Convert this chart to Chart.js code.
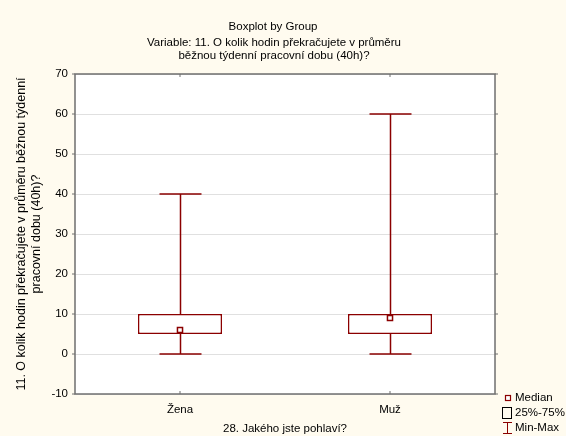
<!DOCTYPE html>
<html lang="cs">
<head>
<meta charset="UTF-8">
<title>Boxplot by Group</title>
<script src="https://cdn.jsdelivr.net/npm/chart.js"></script>
<style>
  body { margin: 0; background: #fffbef; }
  canvas { display: block; }
</style>
</head>
<body>
<canvas id="boxChart" width="566" height="436"></canvas>
<script>
// box plot values
const groups = ['Žena', 'Muž'];
const minVals = [0, 0];
const q1Vals = [5, 5];
const medianVals = [6, 9];
const q3Vals = [10, 10];
const maxVals = [40, 60];
const yMin = -10, yMax = 70, yStep = 10;

const titleLines = ['Boxplot by Group',
  'Variable: 11. O kolik hodin překračujete v průměru',
  'běžnou týdenní pracovní dobu (40h)?'];
const legendLabels = ['Median', '25%-75%', 'Min-Max'];

const FONT = '"Liberation Sans", Arial, sans-serif';
const RED = '#8b0000';

// whiskers, frame, ticks, titles and the legend
const boxExtras = {
  id: 'boxExtras',
  beforeDraw(chart) {
    const {ctx, chartArea: a} = chart;
    ctx.save();
    ctx.fillStyle = '#fffbef';
    ctx.fillRect(0, 0, chart.width, chart.height);
    ctx.fillStyle = '#ffffff';
    ctx.fillRect(a.left, a.top, a.right - a.left, a.bottom - a.top);
    ctx.restore();
  },
  afterDatasetsDraw(chart) {
    const {ctx, chartArea: a, scales: {x, y}} = chart;
    ctx.save();
    ctx.strokeStyle = RED;
    ctx.lineWidth = 1.5;
    groups.forEach((g, i) => {
      const cx = Math.round(x.getPixelForValue(i)) + 0.5;
      const half = 21;
      const pMax = y.getPixelForValue(maxVals[i]);
      const pQ3 = y.getPixelForValue(q3Vals[i]);
      const pQ1 = y.getPixelForValue(q1Vals[i]);
      const pMin = y.getPixelForValue(minVals[i]);
      ctx.beginPath();
      ctx.moveTo(cx, pMax); ctx.lineTo(cx, pQ3);
      ctx.moveTo(cx, pQ1); ctx.lineTo(cx, pMin);
      ctx.moveTo(cx - half, pMax); ctx.lineTo(cx + half, pMax);
      ctx.moveTo(cx - half, pMin); ctx.lineTo(cx + half, pMin);
      ctx.stroke();
    });

    // frame
    ctx.strokeStyle = '#6f6f6f';
    ctx.lineWidth = 1.5;
    ctx.strokeRect(a.left, a.top, a.right - a.left, a.bottom - a.top);
    ctx.beginPath();
    y.ticks.forEach(t => {
      const py = y.getPixelForValue(t.value);
      ctx.moveTo(a.left - 3, py); ctx.lineTo(a.left, py);
      ctx.moveTo(a.right, py); ctx.lineTo(a.right + 3, py);
    });
    groups.forEach((g, i) => {
      const px = x.getPixelForValue(i);
      ctx.moveTo(px, a.top); ctx.lineTo(px, a.top + 3);
      ctx.moveTo(px, a.bottom); ctx.lineTo(px, a.bottom - 3);
    });
    ctx.lineWidth = 1;
    ctx.stroke();

    // titles
    ctx.fillStyle = '#000';
    ctx.font = '11.5px ' + FONT;
    ctx.textAlign = 'center';
    ctx.textBaseline = 'middle';
    ctx.fillText(titleLines[0], 273, 27);
    ctx.fillText(titleLines[1], 274, 43);
    ctx.fillText(titleLines[2], 274, 56);

    // legend
    const lx = 508;
    ctx.strokeStyle = RED;
    ctx.lineWidth = 1.2;
    ctx.fillStyle = '#fff';
    ctx.fillRect(lx - 2.5, 395.5, 5, 5);
    ctx.strokeRect(lx - 2.5, 395.5, 5, 5);
    ctx.lineWidth = 1;
    ctx.strokeStyle = '#000';
    ctx.strokeRect(502.5, 407.5, 9, 11);
    ctx.strokeStyle = RED;
    ctx.beginPath();
    ctx.moveTo(507.5, 422); ctx.lineTo(507.5, 434);
    ctx.moveTo(503, 422.5); ctx.lineTo(512, 422.5);
    ctx.moveTo(503, 433.5); ctx.lineTo(512, 433.5);
    ctx.stroke();
    ctx.fillStyle = '#000';
    ctx.font = '11.5px ' + FONT;
    ctx.textAlign = 'left';
    ctx.fillText(legendLabels[0], 515, 398);
    ctx.fillText(legendLabels[1], 515, 413);
    ctx.fillText(legendLabels[2], 515, 428);
    ctx.restore();
  }
};

new Chart(document.getElementById('boxChart'), {
  type: 'bar',
  data: {
    labels: groups,
    datasets: [
      {
        label: legendLabels[1],
        data: groups.map((g, i) => [q1Vals[i], q3Vals[i]]),
        backgroundColor: '#ffffff',
        borderColor: RED,
        borderWidth: 1.5,
        borderSkipped: false,
        barPercentage: 0.4,
        categoryPercentage: 1.0,
        order: 2
      },
      {
        type: 'line',
        label: legendLabels[0],
        data: medianVals,
        showLine: false,
        pointStyle: 'rect',
        pointRadius: 3.6,
        pointBorderWidth: 1.5,
        pointBackgroundColor: '#ffffff',
        pointBorderColor: RED,
        order: 1
      }
    ]
  },
  options: {
    responsive: false,
    animation: false,
    layout: { padding: { top: 74, right: 71, bottom: 0, left: 0 } },
    plugins: {
      legend: { display: false },
      title: { display: false },
      tooltip: { enabled: false }
    },
    scales: {
      x: {
        offset: true,
        grid: { display: false, drawTicks: false },
        border: { display: false },
        ticks: { color: '#000', font: { family: FONT, size: 11.5 }, padding: 9 },
        title: {
          display: true,
          text: '28. Jakého jste pohlaví?',
          color: '#000',
          font: { family: FONT, size: 11.5, lineHeight: 1.2 },
          padding: { top: 0, bottom: 0 }
        },
        afterFit(scale) { scale.height = 42; }
      },
      y: {
        min: yMin,
        max: yMax,
        grid: { color: '#e0e0e0', lineWidth: 1, drawTicks: false },
        border: { display: false },
        ticks: { stepSize: yStep, color: '#000', font: { family: FONT, size: 11.5 }, padding: 7 },
        title: {
          display: true,
          text: ['11. O kolik hodin překračujete v průměru běžnou týdenní', 'pracovní dobu (40h)?'],
          color: '#000',
          font: { family: FONT, size: 12.5, lineHeight: 1.2 },
          padding: { top: 14.5, bottom: 0 }
        },
        afterFit(scale) { scale.width = 75; }
      }
    }
  },
  plugins: [boxExtras]
});
</script>
</body>
</html>
